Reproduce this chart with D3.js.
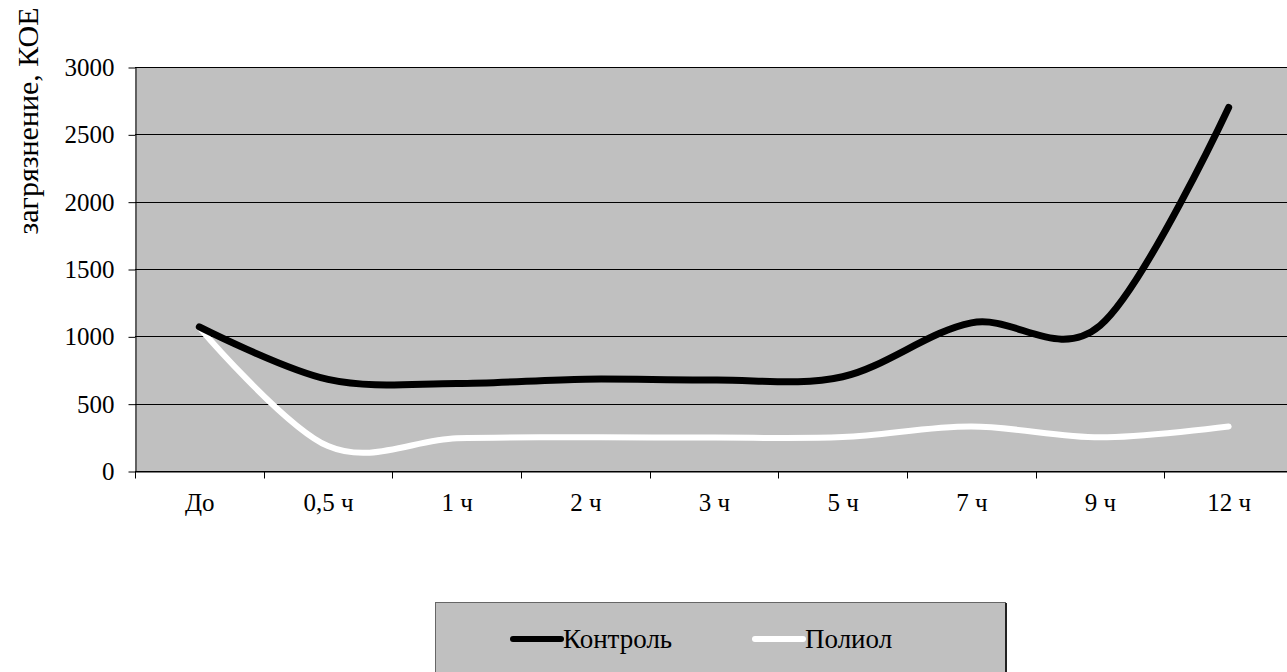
<!DOCTYPE html>
<html><head><meta charset="utf-8">
<script src="https://cdn.jsdelivr.net/npm/d3@7"></script>
<style>html,body{margin:0;padding:0;background:#fff;overflow:hidden}svg{display:block}</style>
</head><body>
<svg id="chart" width="1287" height="672"></svg>
<script>
const categories = ["До", "0,5 ч", "1 ч", "2 ч", "3 ч", "5 ч", "7 ч", "9 ч", "12 ч"];
const controlValues = [1070, 680, 650, 682, 676, 700, 1100, 1080, 2700];
const polyolValues = [1065, 185, 243, 250, 248, 252, 330, 250, 330];
const seriesNames = ["Контроль", "Полиол"];
const yTicks = [0, 500, 1000, 1500, 2000, 2500, 3000];
const yTitle = "загрязнение, КОЕ";

(function () {
const svg = d3.select("#chart");
const font = "'Liberation Serif','Times New Roman',serif";
const pL = 135, pR = 1293, pT = 67, pB = 471;

const x = d3.scaleBand().domain(categories).range([pL, pR]);
const y = d3.scaleLinear().domain([0, 3000]).range([pB, pT]);

svg.append("rect").attr("x", pL).attr("y", pT).attr("width", pR - pL).attr("height", pB - pT).attr("fill", "#c0c0c0");

svg.append("g").selectAll("line").data(yTicks).join("line")
  .attr("x1", pL).attr("x2", pR)
  .attr("y1", d => Math.round(y(d)) + 0.5).attr("y2", d => Math.round(y(d)) + 0.5)
  .attr("stroke", "#000").attr("stroke-width", 1);

const yAxis = d3.axisLeft(y).tickValues(yTicks).tickFormat(d3.format("d")).tickSize(7).tickPadding(14).tickSizeOuter(0);
const gy = svg.append("g").attr("transform", `translate(${pL + 0.5},0.5)`).call(yAxis);
gy.attr("font-size", null).attr("font-family", null);
gy.select(".domain").attr("stroke", "#000");
gy.selectAll(".tick line").attr("stroke", "#000");
gy.selectAll("text").style("font-family", font).style("font-size", "25px").attr("fill", "#000");

const xAxis = d3.axisBottom(x).tickSize(0).tickPadding(22).tickSizeOuter(0);
const gx = svg.append("g").attr("transform", `translate(0.5,${pB + 0.5})`).call(xAxis);
gx.attr("font-size", null).attr("font-family", null);
gx.select(".domain").attr("stroke", "#000");
gx.selectAll("text").style("font-family", font).style("font-size", "25px").attr("fill", "#000");
gx.append("g").selectAll("line").data(categories).join("line")
  .attr("x1", d => Math.round(x(d))).attr("x2", d => Math.round(x(d)))
  .attr("y1", 0).attr("y2", 7).attr("stroke", "#000");

svg.append("text").attr("transform", "translate(38,121) rotate(-90)")
  .attr("text-anchor", "middle").style("font-family", font).style("font-size", "30px")
  .text(yTitle);

const line = d3.line()
  .x((d, i) => x(categories[i]) + x.bandwidth() / 2)
  .y(d => y(d))
  .curve(d3.curveCardinal.tension(0));

svg.append("path").datum(polyolValues).attr("d", line)
  .attr("fill", "none").attr("stroke", "#fff").attr("stroke-width", 6).attr("stroke-linecap", "round");
svg.append("path").datum(controlValues).attr("d", line)
  .attr("fill", "none").attr("stroke", "#000").attr("stroke-width", 7).attr("stroke-linecap", "round");

const lg = svg.append("g");
lg.append("rect").attr("x", 435.5).attr("y", 602.5).attr("width", 570).attr("height", 100)
  .attr("fill", "#c0c0c0").attr("stroke", "#666").attr("stroke-width", 1);
lg.append("line").attr("x1", 1006).attr("x2", 1006).attr("y1", 603).attr("y2", 672).attr("stroke", "#222").attr("stroke-width", 2);
const legendItems = [
  {name: seriesNames[0], color: "#000", x0: 513},
  {name: seriesNames[1], color: "#fff", x0: 755}
];
legendItems.forEach(it => {
  lg.append("line").attr("x1", it.x0).attr("x2", it.x0 + 48).attr("y1", 639).attr("y2", 639)
    .attr("stroke", it.color).attr("stroke-width", 6).attr("stroke-linecap", "round");
  lg.append("text").attr("x", it.x0 + 50).attr("y", 648).style("font-family", font).style("font-size", "27px")
    .text(it.name);
});
})();
</script>
</body></html>
